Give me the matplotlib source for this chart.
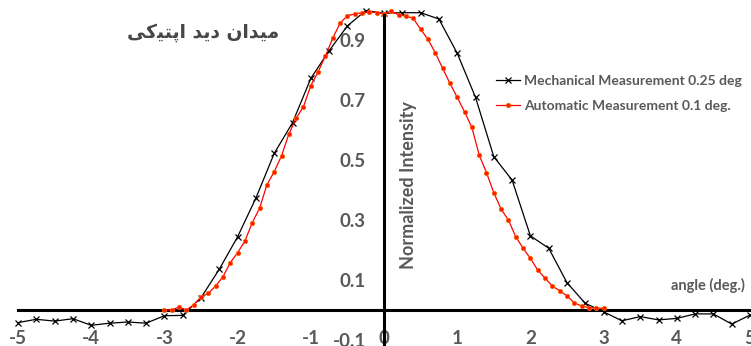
import matplotlib
matplotlib.use("Agg")
import matplotlib.pyplot as plt

# Mechanical measurement, 0.25 deg steps
mech_x = [-5.0, -4.75, -4.5, -4.25, -4.0, -3.75, -3.5, -3.25, -3.0, -2.75,
          -2.5, -2.25, -2.0, -1.75, -1.5, -1.25, -1.0, -0.75, -0.5, -0.25,
          0.0, 0.25, 0.5, 0.75, 1.0, 1.25, 1.5, 1.75, 2.0, 2.25,
          2.5, 2.75, 3.0, 3.25, 3.5, 3.75, 4.0, 4.25, 4.5, 4.75, 5.0]
mech_y = [-0.042, -0.031, -0.037, -0.029, -0.051, -0.044, -0.040, -0.044, -0.019, -0.018,
          0.041, 0.136, 0.244, 0.373, 0.522, 0.624, 0.772, 0.864, 0.947, 0.998,
          0.989, 0.991, 0.991, 0.970, 0.856, 0.709, 0.511, 0.433, 0.247, 0.206,
          0.091, 0.022, -0.006, -0.036, -0.022, -0.033, -0.028, -0.013, -0.013, -0.047, -0.017]

# Automatic measurement, 0.1 deg steps
auto_x = [-3.0, -2.9, -2.8, -2.7, -2.6, -2.5, -2.4, -2.3, -2.2, -2.1,
          -2.0, -1.9, -1.8, -1.7, -1.6, -1.5, -1.4, -1.3, -1.2, -1.1,
          -1.0, -0.9, -0.8, -0.7, -0.6, -0.5, -0.4, -0.3, -0.2, -0.1,
          0.0, 0.1, 0.2, 0.3, 0.4, 0.5, 0.6, 0.7, 0.8, 0.9,
          1.0, 1.1, 1.2, 1.3, 1.4, 1.5, 1.6, 1.7, 1.8, 1.9,
          2.0, 2.1, 2.2, 2.3, 2.4, 2.5, 2.6, 2.7, 2.8, 2.9, 3.0]
auto_y = [0.000, 0.000, 0.010, 0.000, 0.017, 0.044, 0.056, 0.080, 0.111, 0.158,
          0.191, 0.230, 0.291, 0.339, 0.417, 0.461, 0.514, 0.586, 0.639, 0.678,
          0.748, 0.794, 0.847, 0.906, 0.956, 0.981, 0.987, 0.991, 0.994, 0.991,
          0.987, 0.997, 0.983, 0.980, 0.972, 0.936, 0.902, 0.858, 0.806, 0.756,
          0.709, 0.661, 0.609, 0.517, 0.458, 0.391, 0.336, 0.300, 0.244, 0.206,
          0.172, 0.133, 0.106, 0.080, 0.064, 0.047, 0.024, 0.013, 0.008, 0.006, 0.006]

x_ticks = [-5, -4, -3, -2, -1, 0, 1, 2, 3, 4, 5]
y_ticks = [-0.1, 0.1, 0.3, 0.5, 0.7, 0.9]

# "میدان دید اپتیکی" - matplotlib has no Arabic shaping, so use the
# presentation forms and reverse into visual (left-to-right) order
title_shaped = ("\uFEE3\uFBFF\uFEAA\uFE8D\uFEE5 \uFEA9\uFBFE\uFEAA "
                "\uFE8D\uFB58\uFE98\uFBFF\uFB90\uFBFD")[::-1]

gray = "#595959"
font = ["Lato", "DejaVu Sans"]

fig = plt.figure(figsize=(7.51, 3.46), dpi=100)
ax = fig.add_axes([18 / 751, 6 / 346, 732 / 751, 330 / 346])

ax.plot(mech_x, mech_y, color="black", lw=0.9, marker="x", ms=5, mew=0.9,
        label="Mechanical Measurement 0.25 deg", clip_on=False, zorder=3)
ax.plot(auto_x, auto_y, color="#ff0000", lw=0.9, marker="o", ms=3.2,
        mfc="#ff1a00", mec="#ff6a00", mew=0.5,
        label="Automatic Measurement 0.1 deg.", clip_on=False, zorder=4)

ax.set_xlim(-5, 5)
ax.set_ylim(-0.1, 1.0)

for s in ["top", "right"]:
    ax.spines[s].set_visible(False)
ax.spines["left"].set_position(("data", 0))
ax.spines["bottom"].set_position(("data", 0))
ax.spines["left"].set_linewidth(2.2)
ax.spines["bottom"].set_linewidth(2.2)
ax.spines["left"].set_bounds(-0.12, 0.985)
ax.spines["left"].set_zorder(5)

ax.set_xticks(x_ticks)
ax.set_xticklabels([str(t) for t in x_ticks])
ax.set_yticks(y_ticks)
ax.set_yticklabels([f"{t:.1f}" for t in y_ticks])
ax.tick_params(axis="both", length=0, labelsize=13.5, labelcolor=gray)
ax.tick_params(axis="y", pad=13)
ax.tick_params(axis="x", pad=14.5)
for lab in ax.get_xticklabels() + ax.get_yticklabels():
    lab.set_fontweight("bold")
    lab.set_family(font)

ax.text(0.34, 0.417, "Normalized Intensity", rotation=90, ha="center", va="center",
        fontsize=13, fontweight="bold", color=gray, family=font)
ax.text(4.42, 0.083, "angle (deg.)", ha="center", va="center",
        fontsize=10.5, fontweight="bold", color=gray, family=font)

fig.text(203 / 751, 1 - 33 / 346, title_shaped, ha="center", va="center",
         fontsize=13.5, fontweight="bold", color="#474747", family=["DejaVu Sans"])

leg = ax.legend(loc="upper left", bbox_to_anchor=(496 / 751, 1 - 75 / 346),
                bbox_transform=fig.transFigure, frameon=False, handlelength=1.7,
                handletextpad=0.3, labelspacing=0.9, borderaxespad=0, borderpad=0,
                prop={"family": font, "weight": "bold", "size": 10})
for t in leg.get_texts():
    t.set_color(gray)

fig.savefig("out.png", dpi=100)
